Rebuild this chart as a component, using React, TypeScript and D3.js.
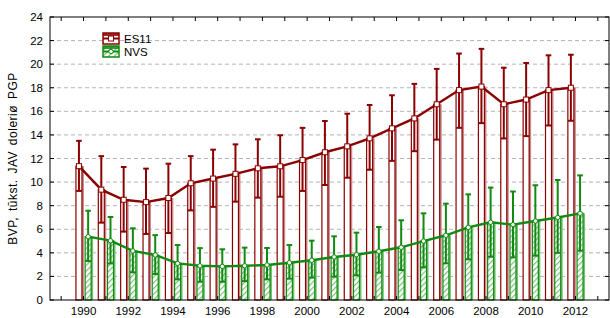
import * as d3 from 'd3';

const years = [1990, 1991, 1992, 1993, 1994, 1995, 1996, 1997, 1998, 1999, 2000, 2001,
  2002, 2003, 2004, 2005, 2006, 2007, 2008, 2009, 2010, 2011, 2012];

const es11Mean = [11.35, 9.36, 8.5, 8.3, 8.65, 9.9, 10.3, 10.7, 11.17, 11.34, 11.87, 12.53,
  13.03, 13.71, 14.56, 15.4, 16.6, 17.8, 18.1, 16.6, 17.0, 17.8, 18.0];
const es11Hi = [13.5, 12.2, 11.28, 11.14, 11.56, 12.2, 12.75, 13.2, 13.63, 13.97, 14.6, 15.18,
  15.8, 16.54, 17.36, 18.33, 19.6, 20.9, 21.3, 19.7, 20.1, 20.75, 20.8];
const es11Lo = [9.25, 6.56, 5.8, 5.6, 5.68, 7.6, 7.9, 8.34, 8.68, 8.76, 9.25, 9.75,
  10.37, 11.05, 11.8, 12.62, 13.6, 14.6, 15.0, 13.7, 13.9, 14.8, 15.2];

const nvsMean = [5.37, 5.03, 4.16, 3.82, 3.1, 2.9, 2.85, 2.9, 2.97, 3.16, 3.37, 3.65,
  3.84, 4.13, 4.47, 5.0, 5.49, 6.16, 6.59, 6.39, 6.7, 7.0, 7.35];
const nvsHi = [7.57, 7.04, 6.08, 5.5, 4.66, 4.4, 4.3, 4.44, 4.41, 4.66, 5.03, 5.4,
  5.71, 6.19, 6.76, 7.35, 8.17, 8.96, 9.53, 9.2, 9.73, 10.18, 10.57];
const nvsLo = [3.3, 3.1, 2.35, 2.2, 1.75, 1.55, 1.55, 1.6, 1.75, 1.81, 1.9, 1.98,
  2.09, 2.32, 2.54, 2.77, 3.11, 3.45, 3.67, 3.62, 3.76, 4.0, 4.18];

const yTicks = [0, 2, 4, 6, 8, 10, 12, 14, 16, 18, 20, 22, 24];
const xLabels = [1990, 1992, 1994, 1996, 1998, 2000, 2002, 2004, 2006, 2008, 2010, 2012];

const W = 610;
const H = 318;
const LEFT = 50;
const RIGHT = 609;
const TOP = 17;
const BOTTOM = 300;

const RED = '#8b0000';
const RED_SHADE = '#c98a8a';
const GREEN = '#118a11';
const GREEN_SHADE = '#72c272';
const FONT = 'Liberation Sans, Arial, sans-serif';

const BAR_W = 6;
const OFF = 4.6;

export default function App() {
  const x = d3.scaleLinear().domain([1988.5, 2013.5]).range([LEFT, RIGHT]);
  const y = d3.scaleLinear().domain([0, 24]).range([BOTTOM, TOP]);

  const es11Line = d3.line<number>()
    .x((_, i) => x(years[i]) - OFF)
    .y(d => y(d));
  const nvsLine = d3.line<number>()
    .x((_, i) => x(years[i]) + OFF)
    .y(d => y(d));

  const tickYears = d3.range(1989, 2014);

  const errorBar = (cx: number, lo: number, hi: number, color: string, key: string) => (
    <g key={key} stroke={color} strokeWidth={2}>
      <line x1={cx} x2={cx} y1={y(lo)} y2={y(hi)} />
      <line x1={cx - 2.8} x2={cx + 2.8} y1={y(hi)} y2={y(hi)} />
      <line x1={cx - 2.8} x2={cx + 2.8} y1={y(lo)} y2={y(lo)} />
    </g>
  );

  return (
    <div style={{ position: 'absolute', left: 0, top: 0 }}>
      <svg width={W} height={H} style={{ display: 'block' }}>
        <defs>
          <pattern id="hatch" width={4} height={4} patternUnits="userSpaceOnUse"
            patternTransform="rotate(45)">
            <rect width={4} height={4} fill="#fff" />
            <line x1={0} y1={0} x2={0} y2={4} stroke={GREEN_SHADE} strokeWidth={2.4} />
          </pattern>
        </defs>
        <rect width={W} height={H} fill="#fff" />

        {/* grid */}
        {yTicks.filter(t => t > 0 && t < 24).map(t => (
          <line key={t} x1={LEFT} x2={RIGHT} y1={y(t)} y2={y(t)}
            stroke="#b4b4b4" strokeDasharray="4,3" strokeWidth={1} />
        ))}

        {/* ES11 bars */}
        {es11Mean.map((v, i) => {
          const cx = x(years[i]) - OFF;
          return (
            <g key={'eb' + i}>
              <rect x={cx - BAR_W / 2 + 2} y={y(v)} width={BAR_W} height={BOTTOM - y(v)}
                fill={RED_SHADE} />
              <rect x={cx - BAR_W / 2} y={y(v)} width={BAR_W} height={BOTTOM - y(v)}
                fill="#fff" stroke={RED} strokeWidth={1.2} />
            </g>
          );
        })}

        {/* NVS bars */}
        {nvsMean.map((v, i) => {
          const cx = x(years[i]) + OFF;
          return (
            <g key={'nb' + i}>
              <rect x={cx - BAR_W / 2 + 2} y={y(v)} width={BAR_W} height={BOTTOM - y(v)}
                fill={GREEN_SHADE} />
              <rect x={cx - BAR_W / 2} y={y(v)} width={BAR_W} height={BOTTOM - y(v)}
                fill="url(#hatch)" stroke={GREEN} strokeWidth={1.2} />
            </g>
          );
        })}

        {/* lines */}
        <path d={es11Line(es11Mean) ?? ''} fill="none" stroke={RED} strokeWidth={2.4} />
        <path d={nvsLine(nvsMean) ?? ''} fill="none" stroke={GREEN} strokeWidth={2.4} />

        {/* error bars */}
        {es11Mean.map((_, i) => errorBar(x(years[i]) - OFF, es11Lo[i], es11Hi[i], RED, 'ee' + i))}
        {nvsMean.map((_, i) => errorBar(x(years[i]) + OFF, nvsLo[i], nvsHi[i], GREEN, 'ne' + i))}

        {/* markers */}
        {es11Mean.map((v, i) => (
          <rect key={'em' + i} x={x(years[i]) - OFF - 2.5} y={y(v) - 2.5} width={5} height={5}
            fill="#fff" stroke={RED} strokeWidth={1} />
        ))}
        {nvsMean.map((v, i) => (
          <circle key={'nm' + i} cx={x(years[i]) + OFF} cy={y(v)} r={2.2}
            fill="#fff" stroke={GREEN} strokeWidth={1} />
        ))}

        {/* frame */}
        <rect x={LEFT} y={TOP} width={RIGHT - LEFT} height={BOTTOM - TOP}
          fill="none" stroke="#000" strokeWidth={1} />

        {/* x ticks */}
        {tickYears.map(t => (
          <g key={'xt' + t} stroke="#000" strokeWidth={1}>
            <line x1={x(t)} x2={x(t)} y1={BOTTOM} y2={BOTTOM - 4} />
            <line x1={x(t)} x2={x(t)} y1={TOP} y2={TOP + 4} />
          </g>
        ))}
        {xLabels.map(t => (
          <text key={'xl' + t} x={x(t)} y={BOTTOM + 15} textAnchor="middle"
            fontFamily={FONT} fontSize={11.5} fill="#000">{t}</text>
        ))}

        {/* y ticks */}
        {yTicks.map(t => (
          <g key={'yt' + t}>
            <line x1={LEFT} x2={LEFT + 4} y1={y(t)} y2={y(t)} stroke="#000" />
            <line x1={RIGHT} x2={RIGHT - 4} y1={y(t)} y2={y(t)} stroke="#000" />
            <text x={LEFT - 7} y={y(t) + 4} textAnchor="end" fontFamily={FONT}
              fontSize={11.5} fill="#000">{t}</text>
          </g>
        ))}

        <text transform={`translate(17,${(TOP + BOTTOM) / 2}) rotate(-90)`} textAnchor="middle"
          fontFamily={FONT} fontSize={12} letterSpacing={0.5} wordSpacing={2}
          fill="#000">BVP, tūkst. JAV doleriø PGP</text>

        {/* legend */}
        <g>
          <rect x={103} y={33} width={16} height={11} fill="#fff" stroke={RED} strokeWidth={1.5} />
          <rect x={103} y={33} width={16} height={3} fill={RED} opacity={0.85} />
          <line x1={103} x2={119} y1={38.5} y2={38.5} stroke={RED} strokeWidth={2} />
          <rect x={108.5} y={36} width={5} height={5} fill="#fff" stroke={RED} strokeWidth={1} />
          <text x={124} y={43} fontFamily={FONT} fontSize={11.5} fill="#000">ES11</text>

          <rect x={103} y={46} width={16} height={11} fill="url(#hatch)" stroke={GREEN} strokeWidth={1.5} />
          <rect x={103} y={46} width={16} height={3} fill={GREEN} opacity={0.85} />
          <line x1={103} x2={119} y1={51.5} y2={51.5} stroke={GREEN} strokeWidth={2} />
          <circle cx={111} cy={51.5} r={2.2} fill="#fff" stroke={GREEN} strokeWidth={1} />
          <text x={124} y={56} fontFamily={FONT} fontSize={11.5} fill="#000">NVS</text>
        </g>
      </svg>
    </div>
  );
}
